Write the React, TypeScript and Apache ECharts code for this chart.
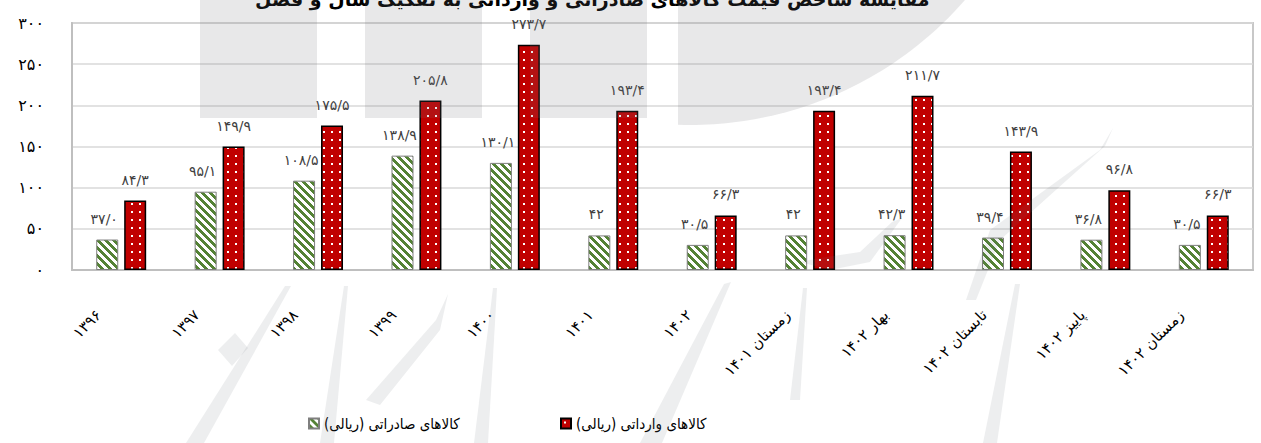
import React, { useEffect, useRef } from 'react';
import * as echarts from 'echarts';

const categories = ['۱۳۹۶', '۱۳۹۷', '۱۳۹۸', '۱۳۹۹', '۱۴۰۰', '۱۴۰۱', '۱۴۰۲', 'زمستان ۱۴۰۱', 'بهار ۱۴۰۲', 'تابستان ۱۴۰۲', 'پاییز ۱۴۰۲', 'زمستان ۱۴۰۲'];
const exportValues = ['37.0', '95.1', '108.5', '138.9', '130.1', '42', '30.5', '42', '42.3', '39.4', '36.8', '30.5'];
const importValues = ['84.3', '149.9', '175.5', '205.8', '273.7', '193.4', '66.3', '193.4', '211.7', '143.9', '96.8', '66.3'];
const yMin = 0;
const yMax = 300;
const yStep = 50;
const exportName = 'کالاهای صادراتی (ریالی)';
const importName = 'کالاهای وارداتی (ریالی)';
const titleText = 'مقایسه شاخص قیمت کالاهای صادراتی و وارداتی به تفکیک سال و فصل';

const FONT = '"DejaVu Sans", "Noto Sans", sans-serif';
const FONT_C = '"DejaVu Sans Condensed", "DejaVu Sans", sans-serif';
const RLM = '\u200F';

const toFa = (s: string) =>
  s.replace(/\d/g, (d) => '۰۱۲۳۴۵۶۷۸۹'[Number(d)]).replace('.', '/');

function makeHatch(): HTMLCanvasElement {
  const c = document.createElement('canvas');
  c.width = 8;
  c.height = 8;
  const ctx = c.getContext('2d')!;
  ctx.fillStyle = '#ffffff';
  ctx.fillRect(0, 0, 8, 8);
  ctx.fillStyle = '#548235';
  for (let y = 0; y < 8; y++) {
    for (let x = 0; x < 8; x++) {
      if ((((x - y) % 8) + 8) % 8 < 4) ctx.fillRect(x, y, 1, 1);
    }
  }
  return c;
}

function makeDots(): HTMLCanvasElement {
  const c = document.createElement('canvas');
  c.width = 8;
  c.height = 8;
  const ctx = c.getContext('2d')!;
  ctx.fillStyle = '#c00000';
  ctx.fillRect(0, 0, 8, 8);
  ctx.fillStyle = '#ffffff';
  ctx.fillRect(3, 3, 2, 2);
  return c;
}

const WM = 'rgba(110,115,120,0.16)';
const WM2 = 'rgba(110,115,120,0.12)';

function watermark(): any[] {
  const els: any[] = [];
  const rects = [
    [200, 0, 117, 118],
    [365, 0, 117, 118],
    [530, 0, 117, 118],
  ];
  rects.forEach(([x, y, w, h]) =>
    els.push({ type: 'rect', silent: true, z: 100, shape: { x, y, width: w, height: h }, style: { fill: WM } })
  );
  const pts: number[][] = [[678, 0]];
  for (let x = 678; x <= 965; x += 6) {
    const d = 365 * 365 - (x - 690) * (x - 690);
    pts.push([x, Math.max(0, -240 + Math.sqrt(Math.max(0, d)))]);
  }
  pts.push([965, 0]);
  els.push({ type: 'polygon', silent: true, z: 100, shape: { points: pts }, style: { fill: WM } });
  const shapes: number[][][] = [
    [[186, 443], [204, 443], [291, 286], [285, 286]],
    [[218, 350], [235, 333], [248, 348], [232, 366]],
    [[320, 443], [334, 443], [348, 286], [344, 286]],
    [[366, 400], [380, 405], [440, 330], [448, 294], [436, 320]],
    [[474, 443], [488, 443], [497, 288], [493, 288]],
    [[640, 443], [662, 443], [731, 282], [724, 284]],
    [[790, 400], [800, 400], [807, 288], [803, 288]],
    [[1113, 128], [1100, 150], [990, 230], [966, 300], [976, 300], [1000, 240], [1105, 146]],
    [[800, 262], [830, 270], [870, 262], [902, 218], [892, 222], [860, 252], [820, 258]],
    [[983, 443], [997, 443], [1020, 284], [1015, 284]],
  ];
  shapes.forEach((p) =>
    els.push({ type: 'polygon', silent: true, z: 100, shape: { points: p }, style: { fill: WM2 } })
  );
  return els;
}

export default function App() {
  const ref = useRef<HTMLDivElement>(null);

  useEffect(() => {
    if (!ref.current) return;
    const chart = echarts.init(ref.current, null, { renderer: 'svg' });
    const hatch = makeHatch();
    const dots = makeDots();
    const labelBase = {
      show: true,
      position: 'top',
      distance: 14,
      color: '#404040',
      fontSize: 14,
      fontFamily: FONT,
    };
    const legendBase = {
      itemWidth: 10,
      itemHeight: 10,
      icon: 'rect',
      itemGap: 4,
      formatter: (n: string) => n + RLM,
      textStyle: { fontSize: 15, color: '#000', fontFamily: FONT_C },
    };
    chart.setOption({
      animation: false,
      backgroundColor: '#ffffff',
      textStyle: { fontFamily: FONT },
      title: {
        text: titleText + RLM,
        left: 250,
        top: -16,
        textStyle: { fontSize: 19, fontWeight: 'bold', color: '#000', fontFamily: FONT },
      },
      grid: { left: 72, right: 8, top: 23, bottom: 173, show: true, borderColor: '#c8c8c8', borderWidth: 2 },
      legend: [
        { ...legendBase, data: [exportName], left: 303, top: 411 },
        { ...legendBase, data: [importName], left: 555, top: 411 },
      ],
      xAxis: {
        type: 'category',
        data: categories,
        axisTick: { show: false },
        axisLine: { lineStyle: { color: '#bfbfbf', width: 2 } },
        axisLabel: {
          rotate: 45,
          interval: 0,
          margin: 20,
          padding: [0, 32, 0, 0],
          fontSize: 15,
          color: '#000',
          fontFamily: FONT,
        },
      },
      yAxis: {
        type: 'value',
        min: yMin,
        max: yMax,
        interval: yStep,
        axisLine: { show: true, lineStyle: { color: '#bfbfbf', width: 2 } },
        axisTick: { show: false },
        splitLine: { lineStyle: { color: '#d9d9d9', width: 1.5 } },
        axisLabel: {
          formatter: (v: number) => toFa(String(v)),
          fontSize: 16,
          color: '#000',
          margin: 28,
          fontFamily: FONT,
        },
      },
      series: [
        {
          name: exportName,
          type: 'bar',
          z: 2,
          data: exportValues.map(Number),
          barWidth: 22,
          barGap: '27%',
          itemStyle: { color: { image: hatch, repeat: 'repeat' }, borderColor: '#7f7f7f', borderWidth: 1 },
          label: { ...labelBase, offset: [-3, 0], formatter: (p: any) => toFa(exportValues[p.dataIndex]) },
          emphasis: { disabled: true },
        },
        {
          name: importName,
          type: 'bar',
          z: 3,
          data: importValues.map(Number),
          barWidth: 22,
          barGap: '27%',
          itemStyle: { color: { image: dots, repeat: 'repeat' }, borderColor: '#000000', borderWidth: 1.5 },
          label: { ...labelBase, formatter: (p: any) => toFa(importValues[p.dataIndex]) },
          emphasis: { disabled: true },
        },
      ],
      graphic: { elements: watermark() },
    });
    return () => chart.dispose();
  }, []);

  return <div ref={ref} style={{ position: 'fixed', left: 0, top: 0, width: 1261, height: 443 }} />;
}
